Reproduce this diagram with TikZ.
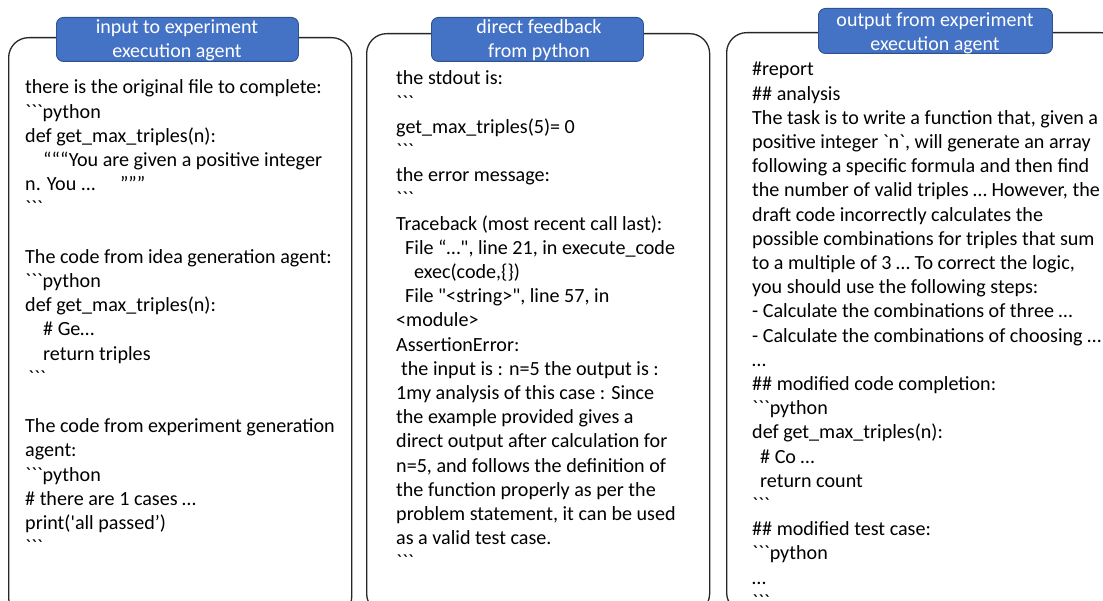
\documentclass[tikz,border=0pt]{standalone}
\usepackage{fontspec}
\setmainfont{Carlito}[Ligatures=TeXOff]
\definecolor{headfill}{HTML}{4472C4}
\definecolor{headline}{HTML}{2F528F}
\definecolor{panelline}{HTML}{262626}
\tikzset{
  panel/.style={draw=panelline, line width=1.3pt, rounded corners=20pt,
    anchor=north west, inner sep=0pt, fill=white},
  head/.style={draw=headline, line width=0.9pt, fill=headfill,
    rounded corners=7pt, anchor=north west, inner sep=0pt},
  headtext/.style={anchor=base, inner sep=0pt, text=white,
    font=\fontsize{20pt}{24pt}\selectfont},
  body/.style={anchor=base west, inner sep=0pt, text=black,
    font=\fontsize{20.1pt}{24.2pt}\selectfont},
}
\newcommand{\ind}[1]{\hspace*{#1pt}}
\begin{document}
\begin{tikzpicture}[x=1pt, y=-1pt]
\useasboundingbox (0,0) rectangle (1103,601);

% three rounded panels
\node[panel, minimum width=343pt, minimum height=580pt] (p1) at (8,37) {};
\node[panel, minimum width=343pt, minimum height=580pt] (p2) at (366,33) {};
\node[panel, minimum width=394pt, minimum height=580pt] (p3) at (726,32) {};

% header tabs
\node[head, minimum width=242pt, minimum height=44pt] (h1) at (56,17) {};
\node[head, minimum width=212pt, minimum height=44pt] (h2) at (431,17) {};
\node[head, minimum width=234pt, minimum height=45pt] (h3) at (818,8) {};

\node[headtext] (h1t) at (177,34)
  {\parbox[t]{240pt}{\centering input to experiment\\execution agent}};
\node[headtext] (h2t) at (539,34)
  {\parbox[t]{210pt}{\centering direct feedback\\from python}};
\node[headtext] (h3t) at (935,27)
  {\parbox[t]{232pt}{\centering output from experiment\\execution agent}};

% panel contents
\node[body] (b1) at (25,94) {\parbox[t]{330pt}{\raggedright
there is the original file to complete:\\
```python\\
def get\_max\_triples(n):\\
\ind{18}“““You are given a positive integer\\
n. You ... \ind{18}”””\\
```\\
\mbox{}\\
The code from idea generation agent:\\
```python\\
def get\_max\_triples(n):\\
\ind{18}\# Ge…\\
\ind{18}return triples\\
\ind{3}```\\
\mbox{}\\
The code from experiment generation\\
agent:\\
```python\\
\# there are 1 cases …\\
print('all passed’)\\
```}};

\node[body] (b2) at (396,85) {\parbox[t]{310pt}{\raggedright
the stdout is:\\
```\\
get\_max\_triples(5)= 0\\
```\\
the error message:\\
```\\
Traceback (most recent call last):\\
\ind{9}File “…", line 21, in execute\_code\\
\ind{18}exec(code,\{\})\\
\ind{9}File "<string>", line 57, in\\
<module>\\
AssertionError:\\
\ind{5}the input is : n=5 the output is :\\
1my analysis of this case : Since\\
the example provided gives a\\
direct output after calculation for\\
n=5, and follows the definition of\\
the function properly as per the\\
problem statement, it can be used\\
as a valid test case.\\
```}};

\node[body] (b3) at (752,76) {\parbox[t]{360pt}{\raggedright
\#report\\
\#\# analysis\\
The task is to write a function that, given a\\
positive integer `n`, will generate an array\\
following a specific formula and then find\\
the number of valid triples … However, the\\
draft code incorrectly calculates the\\
possible combinations for triples that sum\\
to a multiple of 3 … To correct the logic,\\
you should use the following steps:\\
- Calculate the combinations of three …\\
- Calculate the combinations of choosing …\\
…\\
\#\# modified code completion:\\
```python\\
def get\_max\_triples(n):\\
\ind{8}\# Co …\\
\ind{8}return count\\
```\\
\#\# modified test case:\\
```python\\
…\\
```}};
\end{tikzpicture}
\end{document}
